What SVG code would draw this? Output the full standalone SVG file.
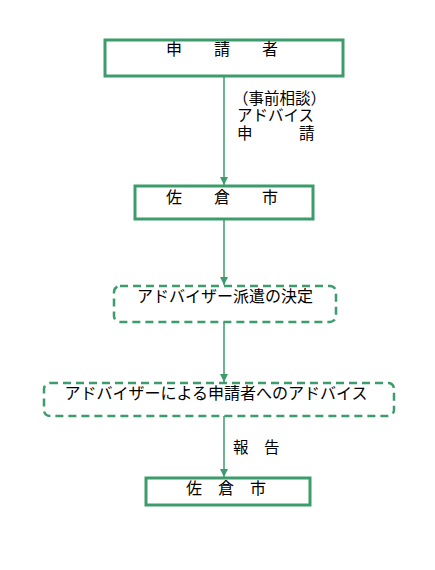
<svg xmlns="http://www.w3.org/2000/svg" width="435" height="570" viewBox="0 0 435 570">
<defs>
<marker id="arr" viewBox="0 0 10 10" refX="10" refY="5" markerWidth="10" markerHeight="8" markerUnits="userSpaceOnUse" orient="auto">
<path d="M0,0 L10,5 L0,10 z" fill="#3c9c6c"/>
</marker>
<style>
.solid{fill:#fff;stroke:#3c9c6c;stroke-width:3}
.dash{fill:#fff;stroke:#3c9c6c;stroke-width:2.5;stroke-dasharray:8,5}
.line{stroke:#3c9c6c;stroke-width:1.5;fill:none}
text{font-family:"Noto Sans CJK JP","Liberation Sans",sans-serif;font-size:16px;fill:#000}
.c{text-anchor:middle}
.lbl{font-size:15.5px}
</style>
</defs>
<rect width="435" height="570" fill="#fff"/>
<g id="connectors">
<line class="line" x1="224" y1="77" x2="224" y2="185" marker-end="url(#arr)"/>
<line class="line" x1="224" y1="220" x2="224" y2="285" marker-end="url(#arr)"/>
<line class="line" x1="224" y1="322" x2="224" y2="382" marker-end="url(#arr)"/>
<line class="line" x1="224" y1="416" x2="224" y2="477" marker-end="url(#arr)"/>
<text class="lbl" x="233" y="104">（事前相談）</text>
<text class="lbl" x="237" y="121">アドバイス</text>
<text class="lbl" x="237" y="139">申　　　請</text>
<text class="lbl" x="233" y="453">報　告</text>
</g>
<g id="n1">
<rect class="solid" x="105" y="40" width="238" height="36"/>
<text class="c" x="222" y="55">申　　請　　者</text>
</g>
<g id="n2">
<rect class="solid" x="135" y="186" width="178" height="33"/>
<text class="c" x="222" y="203">佐　　倉　　市</text>
</g>
<g id="n3">
<rect class="dash" x="114" y="286" width="222" height="36" rx="6"/>
<text class="c" x="225" y="302">アドバイザー派遣の決定</text>
</g>
<g id="n4">
<rect class="dash" x="44" y="383" width="350" height="33" rx="6"/>
<text class="c" x="216" y="399">アドバイザーによる申請者へのアドバイス</text>
</g>
<g id="n5">
<rect class="solid" x="146" y="478" width="164" height="27"/>
<text class="c" x="226" y="494">佐　倉　市</text>
</g>
</svg>
